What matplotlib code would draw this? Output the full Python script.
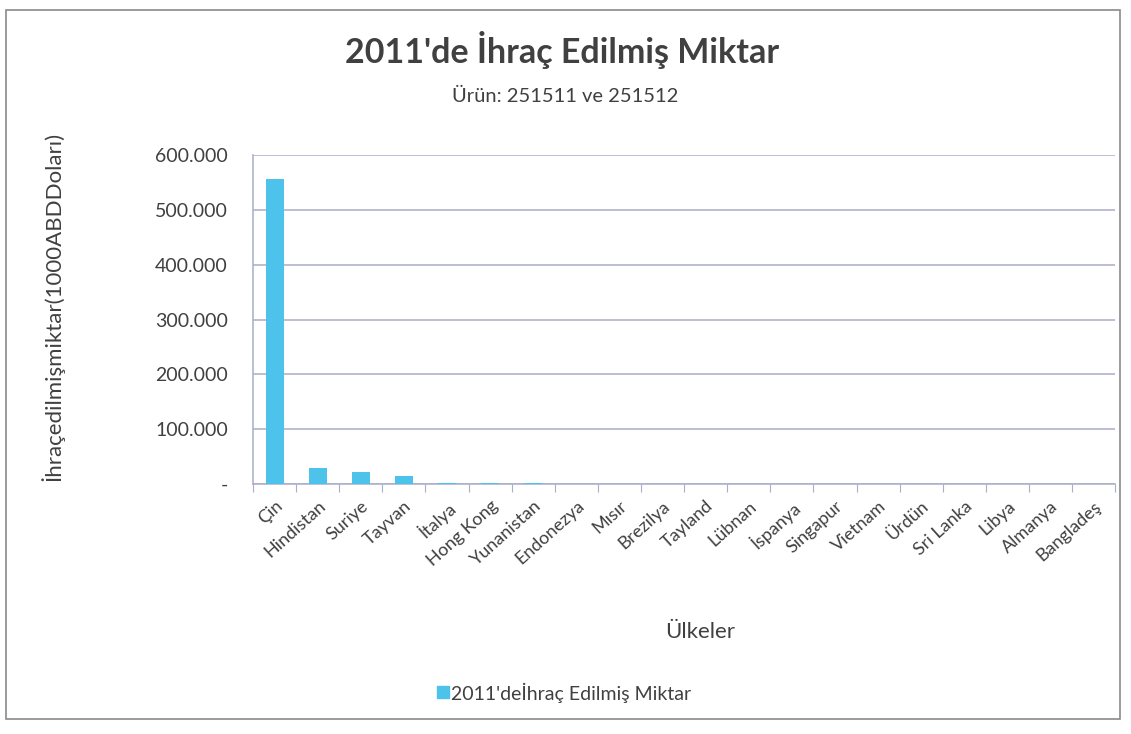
import matplotlib
matplotlib.use("Agg")
import matplotlib.pyplot as plt
from matplotlib.ticker import FuncFormatter

countries = ["Çin", "Hindistan", "Suriye", "Tayvan", "İtalya", "Hong Kong", "Yunanistan",
             "Endonezya", "Mısır", "Brezilya", "Tayland", "Lübnan", "İspanya", "Singapur",
             "Vietnam", "Ürdün", "Sri Lanka", "Libya", "Almanya", "Bangladeş"]
values = [556000, 29000, 22000, 14500, 2500, 1800, 1000, 800, 700, 600, 500, 450, 400,
          350, 300, 250, 200, 150, 120, 100]
yticks = [0, 100000, 200000, 300000, 400000, 500000, 600000]

plt.rcParams['font.family'] = ['Lato', 'DejaVu Sans']
fig = plt.figure(figsize=(11.31, 7.34), dpi=100)
ax = fig.add_axes([0.2237, 0.3406, 0.7623, 0.4482])

x = range(len(countries))
ax.bar(x, values, width=0.42, color="#4DC3EC", zorder=3)
ax.set_xlim(-0.5, len(countries) - 0.5)
ax.set_ylim(0, 600000)
ax.set_yticks(yticks)
ax.yaxis.set_major_formatter(FuncFormatter(lambda v, p: "-" if v == 0 else f"{int(v):,}".replace(",", ".")))
ax.grid(axis="y", color="#A9ADC8", linewidth=1.1, zorder=0)
ax.set_xticks([i - 0.5 for i in range(len(countries) + 1)], minor=False)
ax.set_xticklabels([])
ax.set_xticks(list(x), minor=True)
ax.set_xticklabels(countries, minor=True, rotation=42, ha="right", rotation_mode="anchor",
                   fontsize=13, color="#404040")
ax.tick_params(axis="x", which="minor", length=0, pad=10)
ax.tick_params(axis="x", which="major", length=6, color="#A9ADC8")
ax.tick_params(axis="y", length=0, labelsize=14, labelcolor="#404040", pad=18)
for s in ["top", "right"]:
    ax.spines[s].set_visible(False)
for s in ["left", "bottom"]:
    ax.spines[s].set_color("#A9ADC8")
    ax.spines[s].set_linewidth(1.1)

fig.text(0.046, 0.582, "İhraçedilmişmiktar(1000ABDDoları)", rotation=90, ha="center", va="center",
         fontsize=16, color="#404040")
fig.text(0.619, 0.139, "Ülkeler", ha="center", va="center", fontsize=16, color="#404040")
fig.text(0.497, 0.932, "2011'de İhraç Edilmiş Miktar", ha="center", va="center",
         fontsize=24.5, fontweight="bold", color="#404040")
fig.text(0.5, 0.868, "Ürün: 251511 ve 251512", ha="center", va="center", fontsize=14.5, color="#404040")

fig.patches.append(plt.Rectangle((0.386, 0.049), 0.0106, 0.0163, transform=fig.transFigure,
                                 color="#4DC3EC", figure=fig))
fig.text(0.399, 0.056, "2011'deİhraç Edilmiş Miktar", ha="left", va="center", fontsize=14, color="#404040")

fig.patches.append(plt.Rectangle((0.005, 0.02), 0.985, 0.966, transform=fig.transFigure,
                                 fill=False, edgecolor="#8A8A8A", linewidth=1.2, figure=fig))
fig.savefig("out.png", dpi=100)
